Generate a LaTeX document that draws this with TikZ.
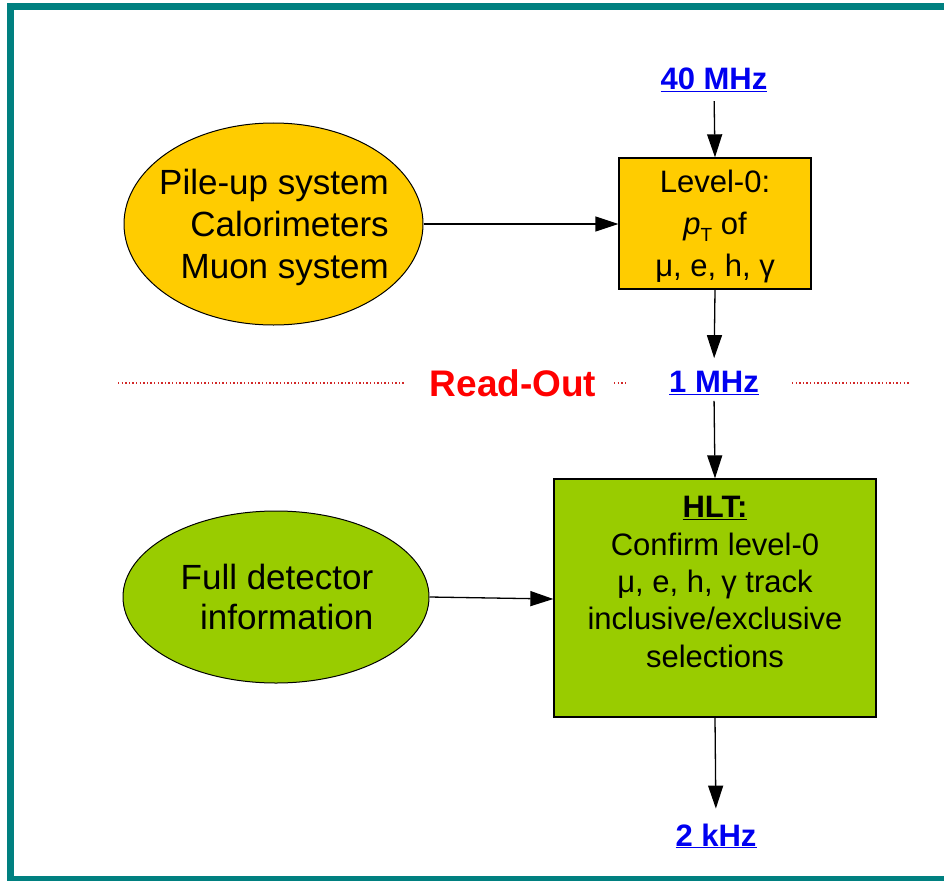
\documentclass[tikz,border=0pt]{standalone}
\usepackage{fontspec}
\setmainfont{Liberation Sans}
\usetikzlibrary{arrows.meta,shapes.geometric}

\definecolor{frameteal}{RGB}{0,128,128}
\definecolor{gold}{RGB}{255,204,0}
\definecolor{lime}{RGB}{153,204,0}
\definecolor{linkblue}{RGB}{0,0,240}
\definecolor{readred}{RGB}{255,0,0}
\definecolor{dotred}{RGB}{210,40,40}

\tikzset{
  source/.style={ellipse, draw=black, line width=1pt, inner sep=0pt},
  stage/.style={rectangle, draw=black, line width=1.3pt, inner sep=0pt},
  body/.style={inner sep=0pt, text=black},
  rate/.style={inner sep=0pt, text=linkblue, font=\fontsize{31}{37}\selectfont\bfseries},
  flow/.style={draw=black, line width=1.3pt, -{Triangle[length=23pt,width=15pt]}},
  divider/.style={draw=dotred, line width=1.4pt, dash pattern=on 1.4pt off 2.2pt}
}

\begin{document}
\begin{tikzpicture}[x=1pt, y=-1pt]
\useasboundingbox (0,0) rectangle (944,880);

% outer frame, open to the right
\begin{scope}
  \clip (0,0) rectangle (944,880);
  \draw[frameteal, line width=7pt] (10.5,6.5) rectangle (970,879.5);
\end{scope}

% trigger inputs
\node[source, fill=gold, minimum width=299pt, minimum height=202pt] (pile) at (273.5,224) {};
\node[body, align=right, font=\fontsize{35}{42}\selectfont] (piletxt) at (274,227)
  {Pile-up system\\Calorimeters\\Muon system};

\node[source, fill=lime, minimum width=306pt, minimum height=172pt] (full) at (276,597) {};
\node[body, align=right, font=\fontsize{35}{40}\selectfont] (fulltxt) at (277,597)
  {Full detector\\information};

% trigger stages
\node[stage, fill=gold, minimum width=192pt, minimum height=131pt] (lzero) at (715,223.5) {};
\node[body, align=center, font=\fontsize{31}{42}\selectfont] (lzerotxt) at (715,226)
  {Level-0:\\\textit{p}\raisebox{-0.45ex}{\fontsize{19}{20}\selectfont T} of\\μ, e, h, γ};

\node[stage, fill=lime, minimum width=322pt, minimum height=238pt] (hlt) at (715,598) {};
\node[body, align=center, font=\fontsize{31}{37.3}\selectfont] (hlttxt) at (715,582)
  {\textbf{\underline{HLT:}}\\Confirm level-0\\μ, e, h, γ track\\inclusive/exclusive\\selections};

% rates
\node[rate] (rfortymhz) at (714,80) {\underline{40 MHz}};
\node[rate] (ronemhz) at (714,383) {\underline{1 MHz}};
\node[rate] (rtwokhz) at (716,836) {\underline{2 kHz}};

% read-out separator
\node[inner sep=0pt, text=readred, font=\fontsize{37}{44}\selectfont\bfseries] (readout) at (513,383) {Read-Out};
\draw[divider] (118,383) -- (405,383);
\draw[divider] (614,383) -- (628,383);
\draw[divider] (792,383) -- (910,383);

% data flow
\draw[flow, shorten <=9pt] (rfortymhz.south) -- (lzero.north);
\draw[flow] (pile.east) -- (pile.east -| lzero.west);
\draw[flow, shorten >=13pt] (lzero.south) -- (ronemhz.north);
\draw[flow, shorten <=6pt] (ronemhz.south) -- (hlt.north);
\draw[flow] (full.east) -- ([yshift=-2pt]full.east -| hlt.west);
\draw[flow, shorten >=15pt] (hlt.south) -- (rtwokhz.north);
\end{tikzpicture}
\end{document}
